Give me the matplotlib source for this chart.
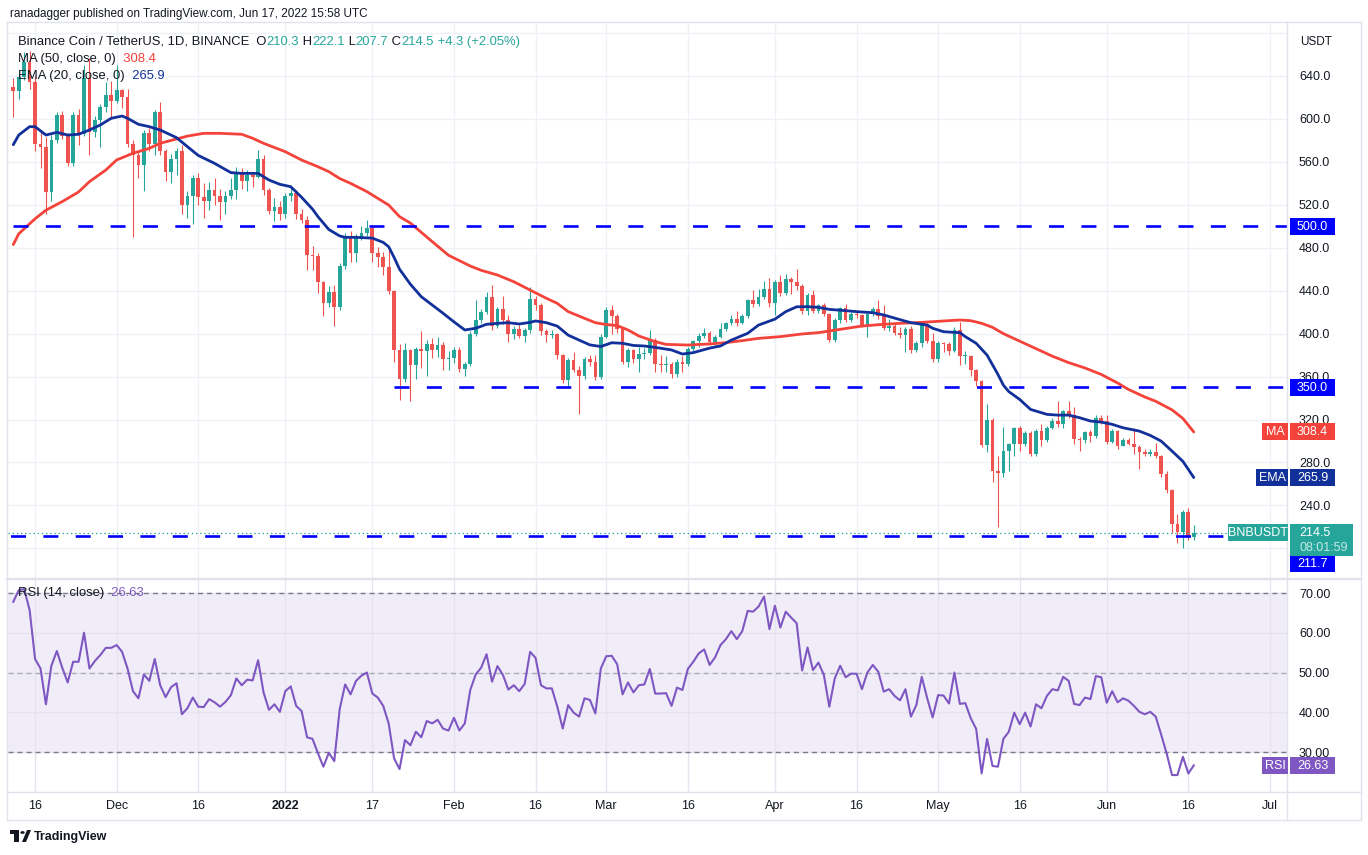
import numpy as np
import pandas as pd
import matplotlib
matplotlib.use("Agg")
import matplotlib.pyplot as plt
import matplotlib.dates as mdates
from matplotlib.patches import Rectangle, Circle, Polygon
from matplotlib.lines import Line2D
from matplotlib.text import Annotation

plt.rcParams['font.family'] = ['Liberation Sans', 'DejaVu Sans']
plt.rcParams['lines.scale_dashes'] = False

# ---------------- data ----------------
start_date = "2021-11-12"
first_open = 630.0

closes = [626, 639, 653, 634, 577, 574, 532, 580, 604, 584,
          559, 604, 586, 638, 588, 599, 611, 622, 617, 627,
          620, 577, 566, 557, 587, 577, 606, 570, 551, 563,
          570, 520, 528, 545, 527, 524, 534, 528, 523, 528,
          534, 549, 542, 548, 546, 563, 534, 514, 518, 511,
          528, 531, 511, 506, 473, 472, 448, 429, 439, 425,
          463, 490, 475, 490, 494, 498, 475, 471, 462, 440,
          385, 358, 385, 371, 386, 384, 390, 385, 389, 376,
          377, 385, 367, 372, 400, 413, 420, 434, 407, 423,
          413, 400, 404, 398, 403, 432, 427, 402, 399, 400,
          380, 357, 375, 366, 361, 376, 374, 360, 397, 422,
          416, 404, 374, 385, 376, 381, 382, 394, 372, 371,
          372, 362, 374, 372, 386, 393, 398, 401, 392, 397,
          404, 410, 414, 410, 416, 431, 428, 434, 442, 429,
          448, 438, 451, 448, 444, 421, 436, 421, 427, 418,
          394, 413, 424, 413, 418, 417, 408, 418, 423, 416,
          405, 407, 401, 399, 404, 385, 391, 408, 393, 376,
          391, 390, 384, 403, 379, 379.5, 366, 356, 296, 320,
          272, 270, 291, 297, 312, 297, 307, 288, 309, 301,
          312, 319, 316, 328, 324, 302, 300.5, 308, 305, 321,
          319, 299, 309, 295, 300.5, 297.4, 294, 290, 288, 289.7,
          286, 269.5, 254, 223, 215, 234, 210.3, 214.5]

highs = [638, 641, 662, 663, 640, 590, 583, 585, 606, 607,
         587, 606, 609, 650, 657, 603, 614, 634, 635, 650,
         628, 628, 580, 570, 590, 592, 608, 616, 572, 567,
         573, 576, 533, 548, 550, 540, 541, 545, 535, 533,
         545, 555, 554, 552, 551, 571, 566, 536, 526, 524,
         531, 537, 534, 516, 510, 482, 475, 449, 444, 445,
         466, 494, 496, 493, 500, 506, 501, 481, 476, 478,
         441, 390, 391, 386, 388, 402, 394, 396, 397, 392,
         384, 388, 388, 374, 402, 431, 423, 439, 445, 425,
         435, 417, 407, 408, 405, 443, 435, 429, 404, 403,
         401, 381, 377, 383, 370, 378, 380, 380, 400, 425,
         427, 418, 406, 387, 386, 388, 387, 403, 396, 380,
         379, 374, 376, 379, 388, 394, 401, 405, 402, 399,
         410, 411, 417, 421, 418, 432, 441, 442, 449, 452,
         450, 455, 456, 453, 460, 446, 438, 441, 428, 429,
         419, 415, 425, 428, 420, 420, 418, 419, 425, 431,
         427, 414, 409, 406, 406, 407, 393, 410, 410, 401,
         393, 392, 392, 406, 411, 384, 380, 367, 357, 334,
         321, 286, 313, 298, 313, 314, 309, 309, 311, 316,
         314, 321, 337, 329, 337, 332, 304, 309, 310, 324,
         324, 324, 311, 310, 303, 303, 312, 296, 293, 293,
         298, 287, 272, 255, 232, 236, 238, 222.1]

lows = [602, 619, 636, 628, 570, 554, 511, 524, 578, 581,
        556, 556, 576, 584, 566, 583, 574, 606, 600, 615,
        610, 574, 490, 545, 533, 570, 566, 566, 542, 540,
        548, 511, 508, 502, 520, 508, 515, 520, 506, 511,
        525, 525, 535, 533, 537, 545, 529, 511, 505, 506,
        508, 524, 507, 503, 459, 459, 438, 416, 425, 407,
        422, 460, 467, 467, 487, 491, 467, 462, 455, 437,
        374, 338, 355, 337, 358, 368, 361, 377, 378, 366,
        366, 373, 364, 361, 370, 398, 410, 418, 403, 405,
        409, 392, 395, 396, 392, 401, 422, 399, 392, 396,
        376, 354, 350, 364, 325, 358, 370, 357, 358, 396,
        400, 401, 372, 369, 373, 364, 376, 380, 364, 364,
        364, 359, 360, 364, 370, 384, 388, 396, 389, 388,
        396, 402, 408, 407, 409, 415, 425, 426, 432, 425,
        417, 435, 436, 437, 441, 418, 417, 419, 419, 416,
        392, 392, 410, 411, 411, 415, 406, 397, 416, 414,
        403, 402, 399, 396, 383, 382, 383, 388, 391, 374,
        374, 383, 380, 383, 371, 372, 361, 351, 294, 290,
        262, 220, 266, 272, 286, 291, 295, 286, 286, 295,
        299, 311, 313, 312, 321, 297, 291, 298, 299, 303,
        316, 297, 298, 293, 295, 296, 288, 274, 286, 286,
        284, 266, 252, 214, 205, 200, 208, 207.7]

rsi_values = [67.8, 70.7, 71.0, 65.7, 53.4, 51.0, 42.0, 51.7, 55.4, 51.2,
              47.5, 52.7, 52.7, 60.0, 51.0, 52.9, 54.4, 56.2, 56.2, 56.9,
              55.2, 51.0, 45.3, 43.5, 49.5, 47.9, 53.4, 46.8, 43.8, 46.3,
              47.3, 39.5, 41.0, 43.7, 41.4, 41.3, 43.3, 42.5, 41.4, 42.6,
              44.3, 48.5, 46.8, 48.2, 48.0, 53.1, 45.0, 40.6, 42.0, 40.1,
              45.3, 46.5, 41.6, 40.3, 33.7, 33.3, 29.7, 26.3, 29.8, 27.7,
              40.8, 47.0, 44.5, 47.9, 49.2, 50.0, 44.7, 43.7, 41.6, 37.2,
              28.4, 25.7, 33.0, 31.7, 35.1, 33.7, 37.8, 37.2, 38.1, 35.9,
              35.4, 38.6, 35.4, 37.2, 45.6, 49.5, 51.2, 54.6, 47.7, 51.6,
              49.4, 45.7, 46.8, 45.3, 47.1, 55.2, 53.7, 46.8, 46.0, 46.0,
              41.4, 35.9, 41.8, 39.9, 38.9, 43.5, 43.1, 39.7, 51.0, 54.1,
              54.2, 52.1, 44.5, 47.5, 45.0, 46.8, 47.0, 50.9, 44.7, 44.7,
              44.8, 41.6, 46.2, 45.6, 50.9, 52.7, 54.8, 55.8, 51.9, 53.8,
              56.9, 58.4, 60.4, 58.4, 60.4, 65.5, 65.3, 66.6, 69.1, 60.9,
              66.8, 61.3, 65.3, 63.8, 62.4, 50.5, 56.3, 50.6, 52.5, 49.4,
              41.4, 48.5, 51.7, 48.8, 49.7, 49.7, 45.8, 50.0, 51.9, 50.2,
              45.2, 45.8, 44.1, 43.0, 45.8, 38.9, 41.8, 48.9, 43.5, 38.7,
              44.3, 44.2, 42.2, 50.0, 42.1, 42.3, 38.5, 35.8, 24.6, 33.3,
              26.5, 26.3, 33.3, 35.1, 39.9, 37.0, 39.9, 36.4, 42.0, 41.0,
              44.1, 45.8, 45.5, 48.9, 47.9, 42.1, 41.8, 43.7, 43.3, 49.1,
              48.8, 42.4, 45.3, 42.5, 43.5, 42.9, 41.6, 40.1, 39.5, 40.1,
              38.9, 34.4, 29.7, 24.2, 24.2, 28.8, 24.6, 26.63]

ema20_days = [0, 1, 3, 4, 6, 8, 10, 12, 14, 16, 18, 20, 21, 23, 25, 27, 30, 32, 34, 37,
              40, 42, 45, 47, 49, 51, 53, 55, 56, 58, 60, 61, 63, 66, 68, 69, 70, 71, 73, 75,
              77, 79, 81, 83, 85, 87, 89, 91, 93, 95, 96, 98, 100, 102, 104, 106, 108, 110, 112, 114,
              116, 118, 121, 123, 125, 128, 130, 132, 135, 137, 140, 142, 144, 146, 148, 150, 153, 155, 158, 160,
              163, 165, 168, 169, 171, 174, 175, 177, 179, 181, 182, 183, 185, 187, 190, 192, 194, 196, 198, 200,
              202, 204, 207, 209, 211, 213, 215, 216, 217]
ema20_values = [576, 585, 592.8, 592.8, 585, 587.5, 585, 585.7, 589.7, 594.4, 600.6, 602.7, 600.6, 595, 592.8, 589.7, 582.6, 574.2, 566, 558.6,
                550, 549.3, 549.3, 543.1, 539.1, 536.9, 527, 516, 509, 497, 491, 489.7, 489.7, 489, 485, 481, 471, 460, 446, 434.4,
                426.7, 419, 411, 403.4, 405, 408.7, 409.6, 410.2, 409, 410.5, 411.8, 410.2, 407, 398.6, 394, 389.5, 388, 391.5, 391, 389,
                388.5, 387.2, 384.8, 381, 382.3, 386.5, 388.5, 394, 400.3, 408, 413.5, 420.5, 425, 425.1, 424.5, 422.6, 421.4, 420.5, 419.5, 417.4,
                413, 410.2, 408, 405, 401.8, 400.9, 397.2, 391, 380, 362, 352, 346, 338.7, 329.4, 324.8, 324.1, 324.1, 321.7, 318.6, 317.6,
                315.5, 312.3, 309.2, 305.2, 299.9, 290.6, 281, 273.5, 265.9]

ma50_days = [0, 1, 4, 6, 9, 12, 14, 17, 19, 22, 25, 27, 29, 32, 35, 38, 42, 44, 46, 50,
             53, 56, 58, 60, 62, 65, 69, 71, 73, 76, 80, 84, 86, 89, 92, 95, 98, 100, 102, 105,
             107, 109, 111, 113, 115, 118, 120, 124, 128, 131, 134, 137, 141, 145, 148, 152, 156, 160, 163, 167,
             171, 174, 176, 178, 180, 182, 185, 188, 191, 194, 197, 200, 203, 205, 208, 210, 213, 215, 217]
ma50_values = [483, 493, 507, 515, 523, 532, 541.6, 552.4, 561.8, 568, 572.6, 577.3, 580, 584, 586.6, 586.6, 585.7, 582, 577.3, 569.5,
               561.7, 555.5, 550.9, 544.5, 540, 532.3, 519.8, 509, 503, 490, 473, 463, 459, 454.6, 448.4, 440.6, 432.9, 428.2, 420.5, 414.3,
               410.2, 408.5, 407.5, 403.4, 397.8, 392.5, 390, 389.4, 390.4, 391.6, 393.5, 395.6, 397.2, 399.7, 400.9, 404, 407.1, 408.7, 409.6, 410.5,
               411.8, 412.7, 412.1, 409.6, 405.9, 400, 393, 386, 379, 373, 368, 362, 354, 348, 341, 337, 329, 321, 308.4]

level_500 = 500.0
level_350 = 350.0
level_350_start = "2022-01-21"
level_low = 211.7
last_close = 214.5
last_ma = 308.4
last_ema = 265.9
last_rsi = 26.63

price_ticks = [240, 280, 320, 360, 400, 440, 480, 520, 560, 600, 640]
extra_grid = [200, 680]
rsi_ticks = [30, 40, 50, 60, 70]
tick_dates = ['2021-11-16', '2021-12-01', '2021-12-16', '2022-01-01', '2022-01-17', '2022-02-01',
              '2022-02-16', '2022-03-01', '2022-03-16', '2022-04-01', '2022-04-16', '2022-05-01',
              '2022-05-16', '2022-06-01', '2022-06-16', '2022-07-01']
tick_labels = ['16', 'Dec', '16', '2022', '17', 'Feb', '16', 'Mar', '16', 'Apr', '16', 'May',
               '16', 'Jun', '16', 'Jul']

# ---------------- styling ----------------
DARK = '#131722'
UP = '#26a69a'
DOWN = '#ef5350'
MA_C = '#f4433a'
EMA_C = '#11309a'
BLUE = '#0000ff'
RSI_C = '#7e57c2'
GRID = '#eff1f6'
FRAME = '#e0e3eb'

W, H = 1368, 855
fig = plt.figure(figsize=(W / 100, H / 100), dpi=100)
fig.patch.set_facecolor('white')


def rect(l, r, t, b):
    return [l / W, 1 - b / H, (r - l) / W, (b - t) / H]


PL, PR = 8, 1287
ax = fig.add_axes(rect(PL, PR, 23, 578))
ax2 = fig.add_axes(rect(PL, PR, 579, 792), sharex=ax)
for a in (ax, ax2):
    a.set_facecolor('none')
    for s in a.spines.values():
        s.set_visible(False)
    a.set_axisbelow(True)

px_per_usd = 1.0735
ax.set_ylim(640 - (578 - 76) / px_per_usd, 640 + (76 - 23) / px_per_usd)
px_per_rsi = 3.975
ax2.set_ylim(30 - (792 - 752) / px_per_rsi, 70 + (593 - 579) / px_per_rsi)

dates = pd.date_range(start_date, periods=len(closes), freq='D')
xn = mdates.date2num(dates)
px_per_day = 5.44
ax.set_xlim(xn[0] - (13.3 - PL) / px_per_day, xn[0] + (PR - 13.3) / px_per_day)

# ---------------- candles ----------------
c = np.array(closes, float)
o = np.array([first_open] + closes[:-1], float)
h = np.array(highs, float)
l = np.array(lows, float)
cols = np.where(c >= o, UP, DOWN)
ax.vlines(xn, l, h, colors=cols, linewidth=0.8, zorder=3)
body = np.maximum(np.abs(c - o), 0.9)
ax.bar(xn, body, bottom=np.minimum(o, c), width=0.68, color=cols, linewidth=0, zorder=3)

# moving averages
ax.plot(xn[ma50_days], ma50_values, color=MA_C, lw=2.0, zorder=4, solid_capstyle='round')
ax.plot(xn[ema20_days], ema20_values, color=EMA_C, lw=2.0, zorder=4, solid_capstyle='round')

# horizontal drawings
dash = (19.7, (10.8, 12.5))
ax.hlines(level_500, ax.get_xlim()[0], ax.get_xlim()[1], colors=BLUE, lw=1.9, linestyles=[dash], zorder=5)
ax.hlines(level_350, mdates.date2num(pd.Timestamp(level_350_start)), ax.get_xlim()[1], colors=BLUE, lw=1.9,
          linestyles=[(0, (10.8, 12.5))], zorder=5)
ax.hlines(level_low, ax.get_xlim()[0], ax.get_xlim()[1], colors=BLUE, lw=1.9, linestyles=[(21.5, (10.8, 12.5))], zorder=5)
ax.axhline(last_close, color=UP, lw=0.9, linestyle=(0, (1.0, 2.0)), zorder=5)

# grid + ticks
tick_nums = mdates.date2num(pd.to_datetime(tick_dates))
ax.set_xticks(tick_nums)
ax.tick_params(axis='x', length=0, labelbottom=False)
ax.yaxis.tick_right()
ax.set_yticks(price_ticks)
ax.set_yticklabels([f"{v:.1f}" for v in price_ticks])
ax.tick_params(axis='y', length=0, pad=8.6, labelsize=9, labelcolor=DARK)
ax.grid(True, color=GRID, lw=1.0, zorder=0)
for g in extra_grid:
    ax.axhline(g, color=GRID, lw=1.0, zorder=0)

# ---------------- RSI ----------------
ax2.axhspan(30, 70, facecolor=RSI_C, alpha=0.10, lw=0, zorder=0)
ax2.yaxis.tick_right()
ax2.set_yticks(rsi_ticks)
ax2.set_yticklabels([f"{v:.2f}" for v in rsi_ticks])
ax2.tick_params(axis='y', length=0, pad=8.6, labelsize=9, labelcolor=DARK)
ax2.grid(True, color='#e6e3ef', lw=1.0, zorder=0)
for lv, al in ((70, 1.0), (30, 1.0), (50, 0.55)):
    ax2.axhline(lv, color='#787b86', lw=1.0, alpha=al, linestyle=(0, (3.6, 2.9)), zorder=1)
ax2.plot(xn, rsi_values, color=RSI_C, lw=1.5, zorder=3)
ax2.set_xticks(tick_nums)
ax2.set_xticklabels(tick_labels)
ax2.tick_params(axis='x', length=0, pad=5.5, labelsize=9, labelcolor=DARK)
for lab in ax2.get_xticklabels():
    if lab.get_text() == '2022':
        lab.set_fontweight('bold')

# ---------------- frame ----------------
def fline(x0, y0, x1, y1, lw=1.0, color=FRAME):
    fig.add_artist(Line2D([x0 / W, x1 / W], [1 - y0 / H, 1 - y1 / H], transform=fig.transFigure,
                          color=color, lw=lw, zorder=1))

fline(7, 22, 1361, 22)
fline(7, 820, 1361, 820)
fline(7, 22, 7, 820)
fline(1361, 22, 1361, 820)
fline(1287, 22, 1287, 820)
fline(7, 578.5, 1361, 578.5, lw=1.6)
fline(7, 792, 1361, 792)


# ---------------- texts ----------------
def ftext(x, y, s, **kw):
    kw.setdefault('zorder', 20)
    return fig.text(x / W, 1 - y / H, s, **kw)


def chain(x, y, parts, size=9.4):
    t = ftext(x, y, parts[0][0], color=parts[0][1], fontsize=size, va='center', ha='left')
    for s, col in parts[1:]:
        a = Annotation(s, xy=(1, 0), xycoords=t, va='bottom', ha='left', color=col, fontsize=size,
                       annotation_clip=False, zorder=20)
        fig.add_artist(a)
        t = a
    return t


ftext(10, 14, "ranadagger published on TradingView.com, Jun 17, 2022 15:58 UTC", fontsize=8.5,
      color=DARK, va='center', ha='left')
chain(18, 42, [("Binance Coin / TetherUS, 1D, BINANCE", DARK), ("  O", DARK), ("210.3", UP),
               (" H", DARK), ("222.1", UP), (" L", DARK), ("207.7", UP), (" C", DARK), ("214.5", UP),
               (" +4.3 (+2.05%)", UP)])
chain(18, 59, [("MA (50, close, 0)", DARK), ("  308.4", MA_C)])
chain(18, 76, [("EMA (20, close, 0)", DARK), ("  265.9", EMA_C)])
chain(18, 593, [("RSI (14, close)", DARK), ("  26.63", RSI_C)])
ftext(1300, 42, "USDT", fontsize=8.5, color=DARK, va='center', ha='left')


def ypix(axx, v):
    return H - axx.transData.transform((axx.get_xlim()[0], v))[1]


def box(x0, x1, yc, hgt, fc, text, tc='white', size=9):
    fig.add_artist(Rectangle((x0 / W, 1 - (yc + hgt / 2) / H), (x1 - x0) / W, hgt / H,
                             transform=fig.transFigure, fc=fc, ec='none', zorder=25))
    if text:
        ftext((x0 + x1) / 2, yc + 0.5, text, ha='center', va='center', color=tc, fontsize=size, zorder=26)


box(1290, 1335, ypix(ax, level_500), 17, BLUE, f"{level_500:.1f}")
box(1290, 1335, ypix(ax, level_350), 17, BLUE, f"{level_350:.1f}")
y_ma = ypix(ax, last_ma)
box(1262, 1288, y_ma, 17, MA_C, "MA")
box(1290, 1335, y_ma, 17, MA_C, f"{last_ma:.1f}")
y_ema = ypix(ax, last_ema)
box(1256, 1288, y_ema, 17, EMA_C, "EMA")
box(1290, 1335, y_ema, 17, EMA_C, f"{last_ema:.1f}")
y_c = ypix(ax, last_close)
box(1228, 1288, y_c, 17, UP, "BNBUSDT")
fig.add_artist(Rectangle((1290 / W, 1 - (y_c + 23) / H), 63 / W, 32 / H, transform=fig.transFigure,
                         fc=UP, ec='none', zorder=25))
ftext(1299, y_c + 0.5, f"{last_close:.1f}", ha='left', va='center', color='white', fontsize=9, zorder=26)
ftext(1299, y_c + 15, "08:01:59", ha='left', va='center', color='#c4e8e4', fontsize=9, zorder=26)
box(1290, 1335, y_c + 31, 16, BLUE, f"{level_low:.1f}")
y_r = ypix(ax2, last_rsi)
box(1262, 1288, y_r, 17, RSI_C, "RSI")
box(1290, 1335, y_r, 17, RSI_C, f"{last_rsi:.2f}")

# TradingView footer logo
fig.add_artist(Rectangle((10 / W, 1 - 834 / H), 9 / W, 4 / H, transform=fig.transFigure, fc=DARK, ec='none'))
fig.add_artist(Rectangle((14 / W, 1 - 842 / H), 5 / W, 12 / H, transform=fig.transFigure, fc=DARK, ec='none'))
fig.add_artist(Circle((22.5 / W, 1 - 832.5 / H), 2.2 / W, transform=fig.transFigure, fc=DARK, ec='none'))
fig.add_artist(Polygon([(22 / W, 1 - 842 / H), (27 / W, 1 - 830 / H), (31 / W, 1 - 830 / H), (26 / W, 1 - 842 / H)],
                       closed=True, transform=fig.transFigure, fc=DARK, ec='none'))
ftext(34, 836.5, "TradingView", fontsize=9, fontweight='bold', color=DARK, va='center', ha='left')

fig.savefig('out.png', dpi=100, facecolor='white')
